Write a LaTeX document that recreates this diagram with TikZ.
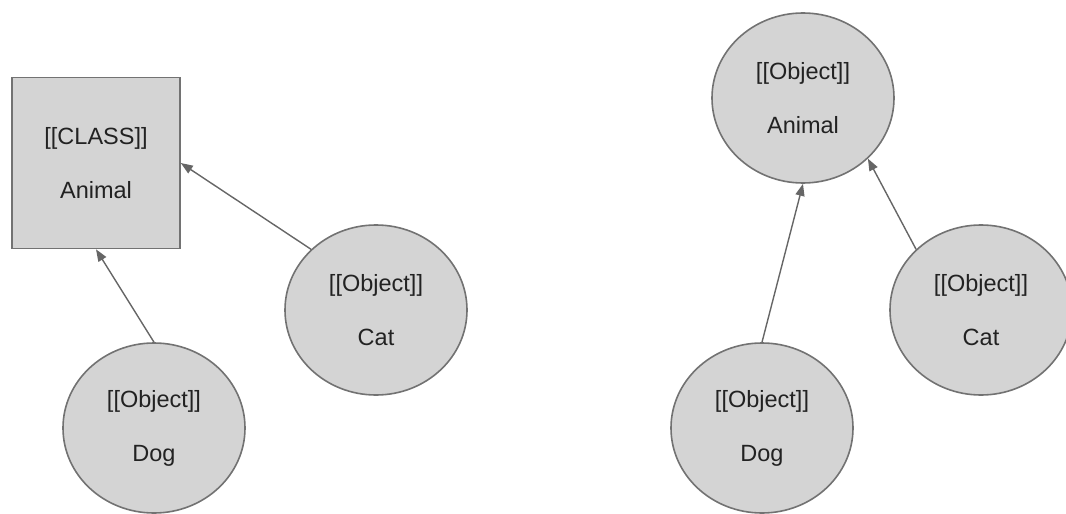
\documentclass[tikz,border=0pt]{standalone}
\usepackage{fontspec}
\setmainfont{Liberation Sans}
\usetikzlibrary{arrows.meta,positioning,calc,shapes.geometric}

\definecolor{shapefill}{HTML}{D4D4D4}
\definecolor{shapeline}{HTML}{727272}
\definecolor{linkgray}{HTML}{666666}
\definecolor{textgray}{HTML}{222222}

\begin{document}
\begin{tikzpicture}[x=1pt,y=-1pt]

  \tikzstyle{classbox}=[draw=shapeline, fill=shapefill, line width=1.6pt, rectangle,
    minimum width=168pt, minimum height=171pt, inner sep=0pt,
    text=textgray, align=center, font=\fontsize{23.5}{54}\selectfont]
  \tikzstyle{objnode}=[draw=shapeline, fill=shapefill, line width=1.6pt, ellipse,
    minimum width=182pt, minimum height=170pt, inner sep=0pt,
    text=textgray, align=center, font=\fontsize{23.5}{54}\selectfont]
  \tikzstyle{link}=[draw=linkgray, line width=1.4pt, -{Triangle[length=12pt,width=9pt]}]

  \useasboundingbox (0,0) rectangle (1066,514);
  \coordinate (origin) at (0,0);

  % left: class with two objects
  \node [classbox] (classA) at ($(origin)+(96,163)$) {[[CLASS]]\\Animal};
  \node [objnode] (catL) at ($(classA)+(280,147)$) {[[Object]]\\Cat};
  \node [objnode] (dogL) at ($(classA)+(58,265)$) {[[Object]]\\Dog};
  \draw [link] (catL.north west) -- (classA.east);
  \draw [link] (dogL.north) -- (classA.south);

  % right: object with two objects
  \node [objnode] (animR) at ($(origin)+(803,98)$) {[[Object]]\\Animal};
  \node [objnode] (catR) at ($(animR)+(178,212)$) {[[Object]]\\Cat};
  \node [objnode] (dogR) at ($(animR)+(-41,330)$) {[[Object]]\\Dog};
  \draw [link] (catR.north west) -- (animR.south east);
  \draw [link] (dogR.north) -- (animR.south);

\end{tikzpicture}
\end{document}
